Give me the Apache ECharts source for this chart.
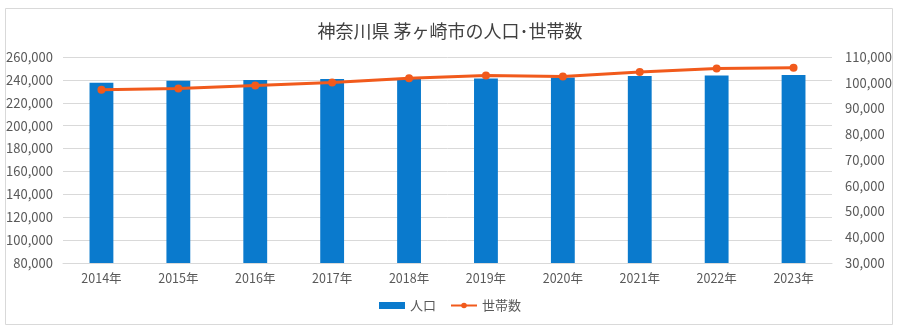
<!DOCTYPE html>
<html><head><meta charset="utf-8">
<script src="https://cdn.jsdelivr.net/npm/echarts@6/dist/echarts.min.js"></script>
<style>html,body{margin:0;padding:0;background:#fff;}#c{width:900px;height:330px;}</style>
</head><body><div id="c"></div>
<script>
const categories = ['2014年','2015年','2016年','2017年','2018年','2019年','2020年','2021年','2022年','2023年'];
const population = [237600, 239300, 240000, 240700, 241500, 241300, 242000, 243400, 243800, 244300];
const households = [97300, 97800, 98950, 100100, 101700, 102850, 102450, 104150, 105550, 105800];
const seriesNames = ['人口', '世帯数'];
const titleText = '神奈川県 茅ヶ崎市の人口･世帯数';

const font = '"Noto Sans CJK JP", "Noto Sans", sans-serif';
const chart = echarts.init(document.getElementById('c'), null, {renderer: 'canvas'});
chart.setOption({
  backgroundColor: '#fff',
  animation: false,
  graphic: [{
    type: 'rect', shape: {x: 5.5, y: 8.5, width: 887, height: 316},
    style: {fill: 'none', stroke: '#d9d9d9', lineWidth: 1}, z: -1
  }],
  title: {
    text: titleText, left: 'center', top: 17,
    textStyle: {fontFamily: font, fontSize: 18, fontWeight: 'normal', color: '#404040'}
  },
  legend: {
    bottom: 13, left: 'center', itemGap: 14, itemWidth: 26, itemHeight: 7,
    textStyle: {fontFamily: font, fontSize: 13, color: '#595959'},
    data: [{name: seriesNames[0], icon: 'rect'}, {name: seriesNames[1]}]
  },
  grid: {left: 63, right: 68, top: 57, bottom: 67},
  xAxis: {
    type: 'category', data: categories,
    axisLine: {lineStyle: {color: '#d9d9d9'}},
    axisTick: {show: false},
    axisLabel: {fontFamily: font, fontSize: 12.5, color: '#595959', margin: 9}
  },
  yAxis: [{
    type: 'value', min: 80000, max: 260000, interval: 20000,
    axisLine: {show: false}, axisTick: {show: false},
    splitLine: {lineStyle: {color: '#d9d9d9'}},
    axisLabel: {fontFamily: font, fontSize: 13, color: '#595959', margin: 10,
      formatter: v => v.toLocaleString('en-US')}
  }, {
    type: 'value', min: 30000, max: 110000, interval: 10000,
    axisLine: {show: false}, axisTick: {show: false},
    splitLine: {show: false},
    axisLabel: {fontFamily: font, fontSize: 13, color: '#595959', margin: 13,
      formatter: v => v.toLocaleString('en-US')}
  }],
  series: [{
    name: seriesNames[0], type: 'bar', data: population, yAxisIndex: 0,
    barWidth: '31%', itemStyle: {color: '#0a7acd'}
  }, {
    name: seriesNames[1], type: 'line', data: households, yAxisIndex: 1,
    symbol: 'circle', symbolSize: 8,
    lineStyle: {color: '#f15a1c', width: 3},
    itemStyle: {color: '#f15a1c'}
  }]
});
</script></body></html>
